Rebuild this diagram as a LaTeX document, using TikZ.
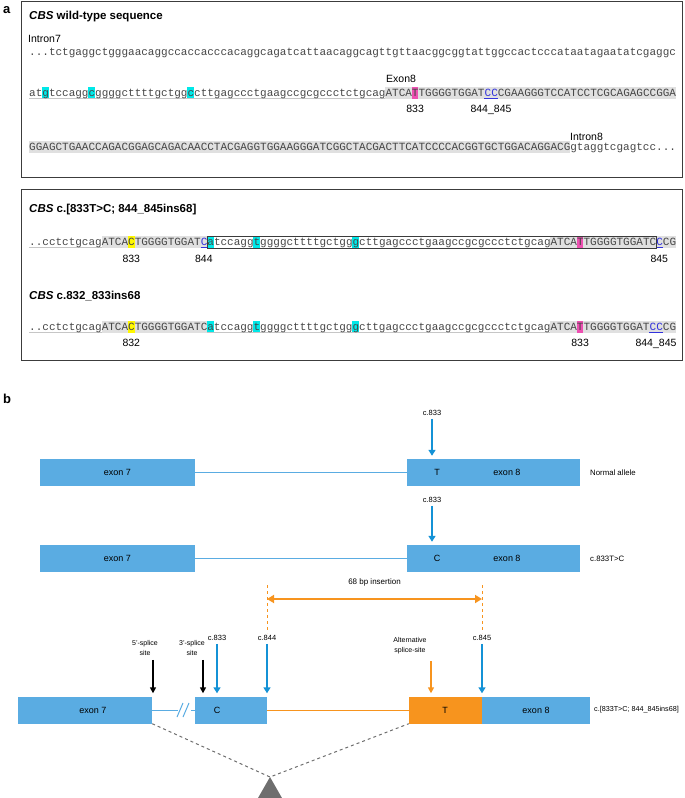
\documentclass[tikz,border=0pt]{standalone}
\usepackage{fontspec}
\setmainfont{Liberation Sans}
\newfontfamily\seqfont{Liberation Mono}
\usetikzlibrary{arrows.meta, positioning, calc}

\definecolor{seqtext}{RGB}{70,70,70}
\definecolor{seqgray}{RGB}{224,224,224}
\definecolor{hlcyan}{RGB}{0,232,232}
\definecolor{hlpink}{RGB}{238,80,178}
\definecolor{hlyellow}{RGB}{255,248,0}
\definecolor{seqblue}{RGB}{50,50,220}
\definecolor{framegray}{RGB}{60,60,60}
\definecolor{exonblue}{RGB}{90,172,226}
\definecolor{arrowblue}{RGB}{20,146,214}
\definecolor{insorange}{RGB}{247,148,30}
\definecolor{dashgray}{RGB}{110,110,110}

% x position of a character in the sequence lines
\newcommand{\chx}[1]{29+#1*6.6}
% baseline, first char, char after last, colour
\newcommand{\seqmark}[4]{\fill[#4] ({\chx{#2}},{#1-9}) rectangle ({\chx{#3}},{#1+3});}
\newcommand{\sequl}[4]{\draw[#4, line width=0.8pt] ({\chx{#2}},{#1+2.6}) -- ({\chx{#3}},{#1+2.6});}

\tikzset{
  seqtxt/.style={anchor=base west, inner sep=0pt, text=seqtext, font=\seqfont\fontsize{11}{13}\selectfont},
  poslbl/.style={anchor=base, inner sep=0pt, font=\fontsize{10.5}{12}\selectfont},
  heading/.style={anchor=base west, inner sep=0pt, font=\bfseries\fontsize{11.5}{14}\selectfont},
  panellbl/.style={anchor=base west, inner sep=0pt, font=\bfseries\fontsize{13}{15}\selectfont},
  frame/.style={framegray, line width=1pt},
  exonbox/.style={fill=exonblue, minimum height=27pt, inner sep=0pt},
  insbox/.style={fill=insorange, minimum height=27pt, inner sep=0pt},
  exontxt/.style={inner sep=0pt, font=\fontsize{9}{10}\selectfont},
  rowlbl/.style={anchor=west, inner sep=0pt, font=\fontsize{7.8}{9}\selectfont},
  mutlbl/.style={inner sep=0pt, font=\fontsize{7.5}{8.5}\selectfont},
  splbl/.style={inner sep=0pt, align=center, font=\fontsize{7}{10}\selectfont},
  intronline/.style={exonblue, line width=1pt},
  bluearr/.style={-{Triangle[length=6pt,width=7pt]}, line width=1.8pt, arrowblue, shorten <=3pt, shorten >=3pt},
  blackarr/.style={-{Triangle[length=6pt,width=6pt]}, line width=1.5pt, black, shorten >=3pt},
  orangearr/.style={-{Triangle[length=6pt,width=6pt]}, line width=1.5pt, insorange, shorten >=3pt},
  insarr/.style={{Triangle[length=7pt,width=8pt]}-{Triangle[length=7pt,width=8pt]}, line width=1.8pt, insorange}
}

\begin{document}
\begin{tikzpicture}[x=1pt, y=-1pt]
  \useasboundingbox (0,0) rectangle (685,798);

  % ---------- panel a ----------
  \node[panellbl] (la) at (3,13) {a};

  % wild-type
  \draw[frame] (21,1.5) rectangle (682,177);
  \node[heading] (wthead) at (29,19) {\textit{CBS} wild-type sequence};
  \node[poslbl, anchor=base west] (in7) at (28,42) {Intron7};
  \node[seqtxt] (wt1) at (29,55) {...tctgaggctgggaacaggccaccacccacaggcagatcattaacaggcagttgttaacggcggtattggccactcccataatagaatatcgaggc};

  \node[poslbl, anchor=base west] (ex8) at (386,82) {Exon8};
  \seqmark{96}{54}{98}{seqgray}
  \seqmark{96}{2}{3}{hlcyan}
  \seqmark{96}{9}{10}{hlcyan}
  \seqmark{96}{24}{25}{hlcyan}
  \seqmark{96}{58}{59}{hlpink}
  \sequl{96}{0}{54}{gray!45}
  \sequl{96}{69}{71}{seqblue}
  \node[seqtxt] (wt2) at (29,96) {atgtccaggcggggcttttgctggccttgagccctgaagccgcgccctctgcagATCATTGGGGTGGAT\textcolor{seqblue}{CC}CGAAGGGTCCATCCTCGCAGAGCCGGA};
  \node[poslbl] (p833) at ({\chx{58.5}},112) {833};
  \node[poslbl] (p844) at ({\chx{70}},112) {844\_845};

  \node[poslbl, anchor=base west] (in8) at (570,140) {Intron8};
  \seqmark{150}{0}{82}{seqgray}
  \node[seqtxt] (wt3) at (29,150) {GGAGCTGAACCAGACGGAGCAGACAACCTACGAGGTGGAAGGGATCGGCTACGACTTCATCCCCACGGTGCTGGACAGGACGgtaggtcgagtcc...};

  % mutant alleles
  \draw[frame] (21,189) rectangle (682,360);
  \node[heading] (muthead) at (29,212) {\textit{CBS} c.[833T>C; 844\_845ins68]};
  \seqmark{245}{11}{27}{seqgray}
  \seqmark{245}{15}{16}{hlyellow}
  \seqmark{245}{79}{98}{seqgray}
  \seqmark{245}{27}{28}{hlcyan}
  \seqmark{245}{34}{35}{hlcyan}
  \seqmark{245}{49}{50}{hlcyan}
  \seqmark{245}{83}{84}{hlpink}
  \sequl{245}{0}{11}{gray!45}
  \sequl{245}{26}{27}{seqblue}
  \sequl{245}{95}{96}{seqblue}
  \draw[framegray, line width=0.8pt] ({\chx{27}},236) rectangle ({\chx{95}},248.2);
  \node[seqtxt] (mut1) at (29,245) {..cctctgcagATCACTGGGGTGGAT\textcolor{seqblue}{C}atccaggtggggcttttgctgggcttgagccctgaagccgcgccctctgcagATCATTGGGGTGGATC\textcolor{seqblue}{C}CG};
  \node[poslbl] (m833) at ({\chx{15.5}},262) {833};
  \node[poslbl] (m844) at ({\chx{26.5}},262) {844};
  \node[poslbl] (m845) at ({\chx{95.5}},262) {845};

  \node[heading] (althead) at (29,299) {\textit{CBS} c.832\_833ins68};
  \seqmark{330}{11}{27}{seqgray}
  \seqmark{330}{15}{16}{hlyellow}
  \seqmark{330}{79}{98}{seqgray}
  \seqmark{330}{27}{28}{hlcyan}
  \seqmark{330}{34}{35}{hlcyan}
  \seqmark{330}{49}{50}{hlcyan}
  \seqmark{330}{83}{84}{hlpink}
  \sequl{330}{0}{11}{gray!45}
  \sequl{330}{27}{79}{gray!45}
  \sequl{330}{94}{96}{seqblue}
  \node[seqtxt] (mut2) at (29,330) {..cctctgcagATCACTGGGGTGGATCatccaggtggggcttttgctgggcttgagccctgaagccgcgccctctgcagATCATTGGGGTGGAT\textcolor{seqblue}{CC}CG};
  \node[poslbl] (a832) at ({\chx{15.5}},346) {832};
  \node[poslbl] (a833) at ({\chx{83.5}},346) {833};
  \node[poslbl] (a844) at ({\chx{95}},346) {844\_845};

  % ---------- panel b ----------
  \node[panellbl] (lb) at (3,403) {b};

  % normal allele
  \node[exonbox, minimum width=155pt] (ex7a) at (117.5,472.5) {};
  \node[exonbox, minimum width=173pt] (ex8a) at (493.5,472.5) {};
  \draw[intronline] (ex7a.east) -- (ex8a.west);
  \node[exontxt] (e7a) at (ex7a) {exon 7};
  \node[exontxt] (nta) at (437,472.5) {T};
  \node[exontxt] (e8a) at (507,472.5) {exon 8};
  \node[mutlbl] (c833a) at (432,413) {c.833};
  \draw[bluearr] (c833a.south) -- (c833a.south |- ex8a.north);
  \node[rowlbl] (rowa) at (590,472.5) {Normal allele};

  % c.833T>C
  \node[exonbox, minimum width=155pt] (ex7b) at (117.5,558.5) {};
  \node[exonbox, minimum width=173pt] (ex8b) at (493.5,558.5) {};
  \draw[intronline] (ex7b.east) -- (ex8b.west);
  \node[exontxt] (e7b) at (ex7b) {exon 7};
  \node[exontxt] (ntb) at (437,558.5) {C};
  \node[exontxt] (e8b) at (507,558.5) {exon 8};
  \node[mutlbl] (c833b) at (432,500) {c.833};
  \draw[bluearr] (c833b.south) -- (c833b.south |- ex8b.north);
  \node[rowlbl] (rowb) at (590,558.5) {c.833T>C};

  % insertion allele
  \node[mutlbl, font=\fontsize{8}{9}\selectfont] (ins) at (374.5,582) {68 bp insertion};
  \coordinate (insL) at (267,599);
  \coordinate (insR) at (482,599);
  \draw[insarr] (insL) -- (insR);
  \draw[insorange, dashed, line width=0.8pt] (267,585) -- (267,633);
  \draw[insorange, dashed, line width=0.8pt] (482,585) -- (482,633);

  \node[exonbox, minimum width=134pt] (ex7c) at (85,710) {};
  \node[exonbox, minimum width=72pt] (exC) at (231,710) {};
  \node[insbox, minimum width=73pt] (exT) at (445.5,710) {};
  \node[exonbox, minimum width=108pt] (ex8c) at (536,710) {};
  \coordinate (brkL) at (178,710);
  \coordinate (brkR) at (191,710);
  \draw[intronline] (ex7c.east) -- (brkL);
  \draw[intronline] (brkR) -- (exC.west);
  \draw[intronline] (177,717) -- (183,703);
  \draw[intronline] (183,717) -- (189,703);
  \draw[insorange, line width=1pt] (exC.east) -- (exT.west);
  \node[exontxt] (e7c) at (93,710) {exon 7};
  \node[exontxt] (ntc) at (217,710) {C};
  \node[exontxt] (ntt) at (445,710) {T};
  \node[exontxt] (e8c) at (536,710) {exon 8};
  \node[rowlbl, font=\fontsize{7.2}{9}\selectfont] (rowc) at (594,710) {c.[833T>C; 844\_845ins68]};

  \node[mutlbl] (c833c) at (217,638) {c.833};
  \node[mutlbl] (c844c) at (267,638) {c.844};
  \node[mutlbl] (c845c) at (482,638) {c.845};
  \draw[bluearr] (c833c.south) -- (c833c.south |- exC.north);
  \draw[bluearr] (c844c.south) -- (c844c.south |- exC.north);
  \draw[bluearr] (c845c.south) -- (c845c.south |- ex8c.north);

  \node[splbl] (sp5) at (145,648) {5'-splice\\site};
  \node[splbl] (sp3) at (192,648) {3'-splice\\site};
  \node[splbl] (alt) at (410,646) {Alternative\\splice-site};
  \draw[blackarr] ([xshift=8pt, yshift=-4pt]sp5.south) -- ([xshift=8pt]sp5.south |- ex7c.north);
  \draw[blackarr] ([xshift=11pt, yshift=-4pt]sp3.south) -- ([xshift=11pt]sp3.south |- exC.north);
  \draw[orangearr] ([xshift=21pt, yshift=-7pt]alt.south) -- ([xshift=21pt]alt.south |- exT.north);

  % splicing to the cryptic site
  \coordinate (apex) at (270,777);
  \draw[dashgray, dashed, line width=1pt] (ex7c.south east) -- (apex) -- (exT.south west);
  \fill[dashgray] (258,798) -- (apex) -- (282,798) -- cycle;
\end{tikzpicture}
\end{document}
